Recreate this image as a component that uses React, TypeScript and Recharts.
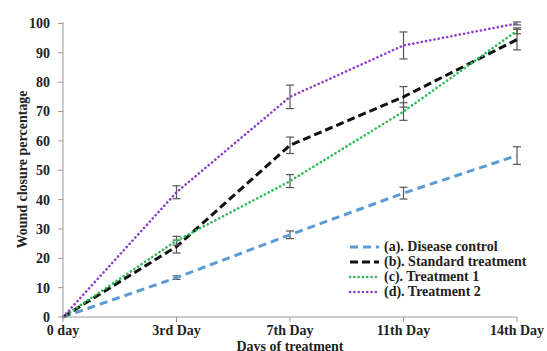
import { LineChart, Line, XAxis, YAxis, ErrorBar, Legend } from 'recharts';

const days = ['0 day', '3rd Day', '7th Day', '11th Day', '14th Day'];
const diseaseControl = [0, 13.4, 28, 42.2, 55];
const standardTreatment = [0, 24, 58.5, 75, 94.5];
const treatment1 = [0, 26, 46.3, 70, 97.5];
const treatment2 = [0, 42.5, 75, 92.5, 100];
const diseaseErr = [0, 0.6, 1.3, 2, 3];
const standardErr = [0, 2.2, 2.8, 3.5, 3.5];
const treatment1Err = [0, 1.5, 2.2, 3, 1];
const treatment2Err = [0, 2.2, 4, 4.6, 0.5];
const yTicks = [0, 10, 20, 30, 40, 50, 60, 70, 80, 90, 100];

const data = days.map((day, i) => ({
  day,
  a: diseaseControl[i],
  aErr: diseaseErr[i],
  b: standardTreatment[i],
  bErr: standardErr[i],
  c: treatment1[i],
  cErr: treatment1Err[i],
  d: treatment2[i],
  dErr: treatment2Err[i],
}));

const font = '"Liberation Serif", "Times New Roman", serif';
const tickStyle = { fontFamily: font, fontSize: 14, fontWeight: 700, fill: '#222' };

interface LegendItem {
  value: string;
  color: string;
  payload: { strokeDasharray?: string; strokeWidth?: number; strokeLinecap?: string };
}

function LegendContent({ payload }: { payload?: LegendItem[] }) {
  if (!payload) return null;
  return (
    <div style={{ fontFamily: font, fontSize: 14, fontWeight: 700, color: '#222', textAlign: 'left' }}>
      {payload.map((p) => (
        <div key={p.value} style={{ display: 'flex', alignItems: 'center', height: 15 }}>
          <svg width={34} height={10}>
            <line
              x1={2}
              y1={5}
              x2={31}
              y2={5}
              stroke={p.color}
              strokeWidth={p.payload.strokeWidth}
              strokeDasharray={p.payload.strokeDasharray}
              strokeLinecap={p.payload.strokeLinecap as 'round' | 'butt'}
            />
          </svg>
          <span style={{ marginLeft: 2 }}>{p.value}</span>
        </div>
      ))}
    </div>
  );
}

export default function App() {
  return (
    <div style={{ position: 'absolute', left: 0, top: 0, background: '#fff' }}>
      <LineChart width={547} height={351} data={data} margin={{ top: 22, right: 30, left: 23, bottom: 0 }}>
        <XAxis
          dataKey="day"
          height={34}
          tick={tickStyle}
          tickSize={5}
          tickMargin={3}
          stroke="#999"
          label={{ value: 'Days of treatment', position: 'insideBottom', offset: 0, style: tickStyle }}
        />
        <YAxis
          domain={[0, 100]}
          ticks={yTicks}
          width={40}
          tick={tickStyle}
          tickSize={5}
          tickMargin={8}
          stroke="#999"
          interval={0}
          label={{
            value: 'Wound  closure percentage',
            angle: -90,
            position: 'insideLeft',
            offset: -1,
            style: { ...tickStyle, textAnchor: 'middle', whiteSpace: 'pre' },
          }}
        />
        <Legend
          layout="vertical"
          align="center"
          verticalAlign="middle"
          content={<LegendContent />}
          wrapperStyle={{ position: 'absolute', left: 348, top: 239, width: 200 }}
        />
        <Line
          dataKey="a"
          name="(a). Disease control"
          stroke="#5b9bd5"
          strokeWidth={3}
          strokeDasharray="8 5"
          dot={false}
          isAnimationActive={false}
        >
          <ErrorBar dataKey="aErr" width={4} stroke="#555" strokeWidth={1.2} />
        </Line>
        <Line
          dataKey="b"
          name="(b). Standard treatment"
          stroke="#111"
          strokeWidth={3}
          strokeDasharray="8 4"
          dot={false}
          isAnimationActive={false}
        >
          <ErrorBar dataKey="bErr" width={4} stroke="#555" strokeWidth={1.2} />
        </Line>
        <Line
          dataKey="c"
          name="(c). Treatment 1"
          stroke="#2dbb55"
          strokeWidth={2.6}
          strokeDasharray="0.1 4.2"
          strokeLinecap="round"
          dot={false}
          isAnimationActive={false}
        >
          <ErrorBar dataKey="cErr" width={4} stroke="#555" strokeWidth={1.2} />
        </Line>
        <Line
          dataKey="d"
          name="(d). Treatment 2"
          stroke="#8a3fcf"
          strokeWidth={2.6}
          strokeDasharray="0.1 4.2"
          strokeLinecap="round"
          dot={false}
          isAnimationActive={false}
        >
          <ErrorBar dataKey="dErr" width={4} stroke="#555" strokeWidth={1.2} />
        </Line>
      </LineChart>
    </div>
  );
}
